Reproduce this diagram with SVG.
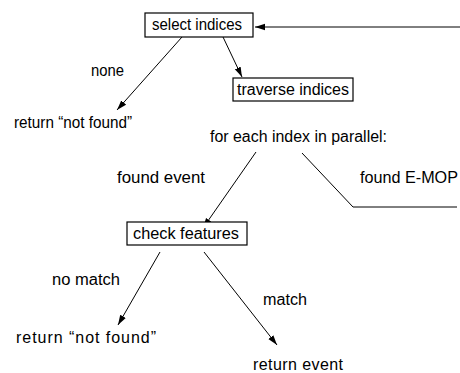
<svg xmlns="http://www.w3.org/2000/svg" width="460" height="373" viewBox="0 0 460 373">
<defs>
<style>
text{font-family:"Liberation Sans",Arial,sans-serif;font-size:16px;fill:#000}
.box{fill:#fff;stroke:#000;stroke-width:1.2}
.ln{fill:none;stroke:#000;stroke-width:1}
</style>
<marker id="ah" viewBox="0 0 10 10" refX="10" refY="5" markerWidth="10" markerHeight="8" markerUnits="userSpaceOnUse" orient="auto" preserveAspectRatio="none">
<path d="M0,1 L10,5 L0,9 z" fill="#000"/>
</marker>
</defs>
<g id="connectors">
<line class="ln" x1="460" y1="27" x2="255" y2="27" marker-end="url(#ah)"/>
<line class="ln" x1="182" y1="37" x2="117" y2="110" marker-end="url(#ah)"/>
<line class="ln" x1="223" y1="37" x2="242" y2="77" marker-end="url(#ah)"/>
<line class="ln" x1="256" y1="152" x2="203" y2="228" marker-end="url(#ah)"/>
<polyline class="ln" points="302,153 353,207 457,207"/>
<line class="ln" x1="160" y1="252" x2="118" y2="325" marker-end="url(#ah)"/>
<line class="ln" x1="204" y1="252" x2="277" y2="345" marker-end="url(#ah)"/>
</g>
<g id="select-indices">
<rect class="box" x="145" y="13" width="108" height="24"/>
<text x="152" y="30" textLength="90" lengthAdjust="spacingAndGlyphs">select indices</text>
</g>
<g id="traverse-indices">
<rect class="box" x="233" y="78" width="120" height="23"/>
<text x="237" y="95" textLength="112" lengthAdjust="spacingAndGlyphs">traverse indices</text>
</g>
<g id="check-features">
<rect class="box" x="127" y="222" width="120" height="23"/>
<text x="133" y="239" textLength="106" lengthAdjust="spacingAndGlyphs">check features</text>
</g>
<g id="labels">
<text x="91" y="76" textLength="33" lengthAdjust="spacingAndGlyphs">none</text>
<text x="14" y="128" textLength="118" lengthAdjust="spacingAndGlyphs">return “not found”</text>
<text x="210" y="142" textLength="177" lengthAdjust="spacingAndGlyphs">for each index in parallel:</text>
<text x="117" y="183" textLength="88" lengthAdjust="spacingAndGlyphs">found event</text>
<text x="360" y="183" textLength="98" lengthAdjust="spacingAndGlyphs">found E-MOP</text>
<text x="52" y="285" textLength="68" lengthAdjust="spacingAndGlyphs">no match</text>
<text x="263" y="305" textLength="44" lengthAdjust="spacingAndGlyphs">match</text>
<text x="16" y="343" textLength="140" lengthAdjust="spacing">return “not found”</text>
<text x="253" y="370" textLength="90" lengthAdjust="spacing">return event</text>
</g>
</svg>
